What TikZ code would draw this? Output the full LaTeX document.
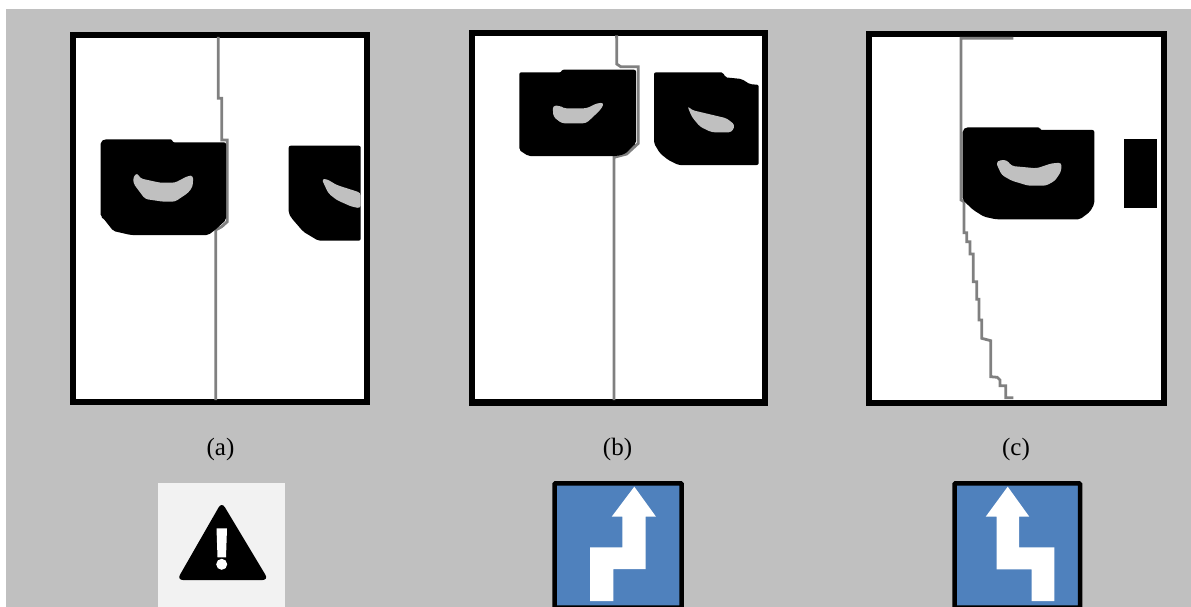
\documentclass[tikz,border=0pt]{standalone}
\usepackage{fontspec}
\setmainfont{Liberation Serif}
\definecolor{pagegray}{HTML}{C0C0C0}
\definecolor{signblue}{HTML}{4F81BD}
\begin{document}
\begin{tikzpicture}[
            x=1pt, y=-1pt,
            panel/.style={draw=black, fill=white, line width=6.3pt},
            blob/.style={fill=black, rounded corners=2pt},
            smile/.style={fill=pagegray, rounded corners=3pt},
            seam/.style={draw=gray, line width=2.8pt},
            caption/.style={font=\fontsize{25}{27}\selectfont, text=black},
            sign/.style={draw=black, fill=signblue, line width=4.5pt, rounded corners=1pt},
            turn/.style={fill=white}
        ]
            \useasboundingbox (0,0) rectangle (1191,607);
            \fill[white] (0,0) rectangle (1191,607);
            \fill[pagegray] (6,9) rectangle (1191,607);

            % Panel a
            \draw[panel] (73.3,35) rectangle (366.8,402.2);
            \draw[seam] (218.3,37) -- (218.3,98.3) -- (221.7,98.3) -- (221.7,140) -- (227.3,140) -- (227.3,221.7) -- (221.7,226.7) -- (215.7,230) -- (215.7,400);
            \fill[blob] (100.7,141.7) -- (104.3,139.3) -- (172.3,139.3) -- (172.3,142.3) -- (226,142.3) -- (226,220) -- (215,230) -- (208.3,235) -- (130.7,235) -- (113.3,231) -- (103.3,218.3) -- (100.7,216.7) -- cycle;
            \fill[smile] (137.3,172.7) -- (140,178.3) -- (160,182.7) -- (175,182.7) -- (188.3,175.7) -- (193.3,175.7) -- (192.7,186.7) -- (188.3,192.7) -- (175,201.7) -- (163.3,201.7) -- (145,199) -- (138.3,190) -- (133.3,183.3) -- (133.3,176.7) -- cycle;
            \fill[blob] (288.7,145.7) -- (360.7,145.7) -- (360.7,240.7) -- (318.3,240.7) -- (303.3,231.7) -- (291.7,218.3) -- (288.7,213.3) -- cycle;
            \fill[smile] (321.7,179) -- (326.7,179) -- (336.7,185) -- (360.7,192.7) -- (360.7,208.3) -- (351.7,206.7) -- (336.7,200) -- (328.3,193.3) -- cycle;

            % Panel b
            \draw[panel] (471.7,32.7) rectangle (764.7,402.4);
            \draw[seam] (615,36.7) -- (616.7,36.7) -- (616.7,64) -- (620.7,66.7) -- (638.3,66.7) -- (638.3,143.3) -- (626.7,154) -- (614,157.3) -- (614,400);
            \fill[blob] (519.3,72.3) -- (561.7,72.3) -- (561.7,69.7) -- (636,69.7) -- (636,143.3) -- (625,154) -- (616.7,156) -- (528.3,156) -- (521.7,151.7) -- (519.3,150) -- cycle;
            \fill[smile] (552.7,105.7) -- (560,105.7) -- (563.3,108.3) -- (586.7,108.3) -- (596.7,103.3) -- (604,102.7) -- (601.7,108.3) -- (593.3,116.7) -- (586,123.3) -- (561.7,123.3) -- (553.3,116.7) -- cycle;
            \fill[blob] (654,72.3) -- (723.3,72.3) -- (725,77.3) -- (741.7,79) -- (750,84.3) -- (758.7,84.7) -- (758.7,165) -- (678.3,165) -- (668.3,160) -- (660,153.3) -- (654,143.3) -- cycle;
            \fill[smile] (687.3,105.7) -- (691.7,110) -- (726.7,118.3) -- (735,125) -- (731.7,132.3) -- (711.7,132.3) -- (700,126.7) -- (691.7,116.7) -- cycle;

            % Panel c
            \draw[panel] (869.3,33.7) rectangle (1164,402.7);
            \draw[seam] (1013.3,38.3) -- (961,38.3) -- (961,200) -- (964,201.7) -- (964,232.7) -- (966.7,232.7) -- (966.7,241.7) -- (970,241.7) -- (970,254) -- (973.3,254) -- (973.3,281.7) -- (976.7,281.7) -- (976.7,299.3) -- (979,299.3) -- (979,320) -- (981.7,320) -- (981.7,338.3) -- (990.7,340.7) -- (990.7,376.7) -- (997.3,377.3) -- (1000,380) -- (1000,385.7) -- (1005.7,385.7) -- (1005.7,397.7) -- (1013.3,397.7);
            \fill[blob] (962.7,130) -- (966,127.3) -- (1040,127.3) -- (1040,130) -- (1094.3,130) -- (1094.3,204) -- (1090,211.7) -- (1080,219.3) -- (996,219.3) -- (984,216.7) -- (973.3,210) -- (962.7,200) -- cycle;
            \fill[smile] (996,162.7) -- (1000,160) -- (1006.7,160) -- (1011.7,166) -- (1036.7,168.3) -- (1051.7,163.3) -- (1061.7,162.7) -- (1061,171.7) -- (1055,180.7) -- (1046,185.7) -- (1028.3,185.7) -- (1011.7,180.7) -- (1001.7,175) -- cycle;
            \fill[black] (1124.3,139) rectangle (1157.3,207.7);

            % Captions
            \node[caption] (capa) at (220.5,449) {(a)};
            \node[caption] (capb) at (617.5,449) {(b)};
            \node[caption] (capc) at (1016,449) {(c)};

            % Warning icon
            \fill[black!5] (157.5,482.5) rectangle (284.5,607);
            \fill[black, rounded corners=6pt] (221.7,502) -- (268.5,580) -- (177,580) -- cycle;
            \fill[white] (216.5,528.3) -- (227,528.3) -- (226,557.3) -- (217.5,557.3) -- cycle;
            \fill[white] (221.7,564.3) circle (5.5);

            % Turn signs
            \draw[sign] (554.5,483.3) rectangle (681.7,607.5);
            \fill[turn] (634.3,486.7) -- (656,516.7) -- (645.7,516.7) -- (645.7,569) -- (613.3,569) -- (613.3,601) -- (590,601) -- (590,547.3) -- (622.3,547.3) -- (622.3,516.7) -- (611.7,516.7) -- cycle;
            \draw[sign] (954.5,483.3) rectangle (1080,607.5);
            \fill[turn] (1007.7,486.7) -- (1029.3,516.7) -- (1019,516.7) -- (1019,547.3) -- (1054.3,547.3) -- (1054.3,601) -- (1031.7,601) -- (1031.7,569.3) -- (996.7,569.3) -- (996.7,516.7) -- (985.7,516.7) -- cycle;
        \end{tikzpicture}
\end{document}
